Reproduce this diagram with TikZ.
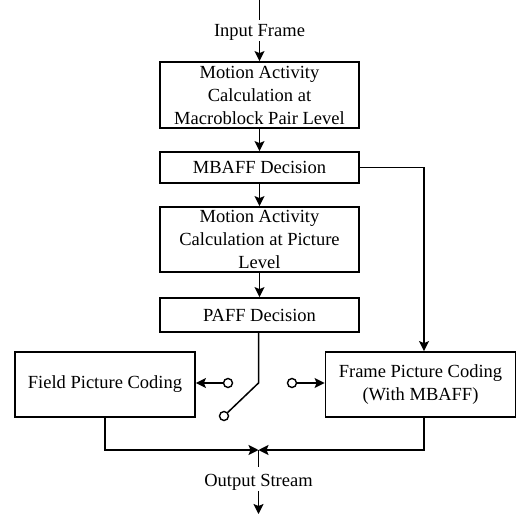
\documentclass[tikz,border=0pt]{standalone}
\usepackage{fontspec}
\setmainfont{Liberation Serif}
\usetikzlibrary{arrows.meta}

\begin{document}
\begin{tikzpicture}[x=1pt, y=-1pt, >={Stealth[length=10pt,width=10pt,inset=2pt]},
    font=\fontsize{18.5}{23}\selectfont,
    blk/.style={draw, line width=1.8pt, inner sep=0pt, align=center, minimum width=199pt},
    term/.style={draw, circle, line width=1.4pt, minimum size=9pt, inner sep=0pt},
    lbl/.style={inner sep=1pt},
    wire/.style={line width=1.5pt}]
    \useasboundingbox (0,0) rectangle (517,519);
    % main column
    \coordinate (top) at (259.5,0);
    \node[lbl] (input) at (259.5,32) {Input Frame};
    \node[blk, minimum height=66pt] (mapair) at (259.5,95) {Motion Activity\\Calculation at\\Macroblock Pair Level};
    \node[blk, minimum height=31pt] (mbaff) at (259.5,167.5) {MBAFF Decision};
    \node[blk, minimum height=65pt] (mapic) at (259.5,239.5) {Motion Activity\\Calculation at Picture\\Level};
    \node[blk, minimum height=34pt] (paff) at (259.5,315) {PAFF Decision};
    % coding blocks
    \node[blk, minimum width=180pt, minimum height=65pt] (field) at (105,384.5) {Field Picture Coding};
    \node[blk, minimum width=190pt, minimum height=65pt] (frame) at (420.5,384.5) {Frame Picture Coding\\(With MBAFF)};
    % switch
    \coordinate (pivot) at (258.5,383);
    \node[term] (swl) at (228,383) {};
    \node[term] (swr) at (292,383) {};
    \node[term] (swd) at (224,416) {};
    % output
    \coordinate (join) at (258.5,450);
    \coordinate (jend) at (258.5,467);
    \node[lbl] (output) at (258.5,482) {Output Stream};
    \coordinate (bot) at (258.5,514);

    \draw[wire] (top) -- (259.5,20);
    \draw[wire, ->] (input) -- (mapair);
    \draw[wire, ->] (mapair) -- (mbaff);
    \draw[wire, ->] (mbaff) -- (mapic);
    \draw[wire, ->] (mapic) -- (paff);
    \draw[wire, ->] (mbaff.east) -| ([xshift=3.5pt]frame.north);
    \draw[wire] (paff.south -| pivot) -- (pivot) -- (swd);
    \draw[wire, ->] (swl) -- (swl -| field.east);
    \draw[wire, ->] (swr) -- (swr -| frame.west);
    \draw[wire, ->] (field.south) |- (join);
    \draw[wire, ->] ([xshift=3.5pt]frame.south) |- (join);
    \draw[wire] (join) -- (jend);
    \draw[wire, ->] (output) -- (bot);
\end{tikzpicture}
\end{document}
